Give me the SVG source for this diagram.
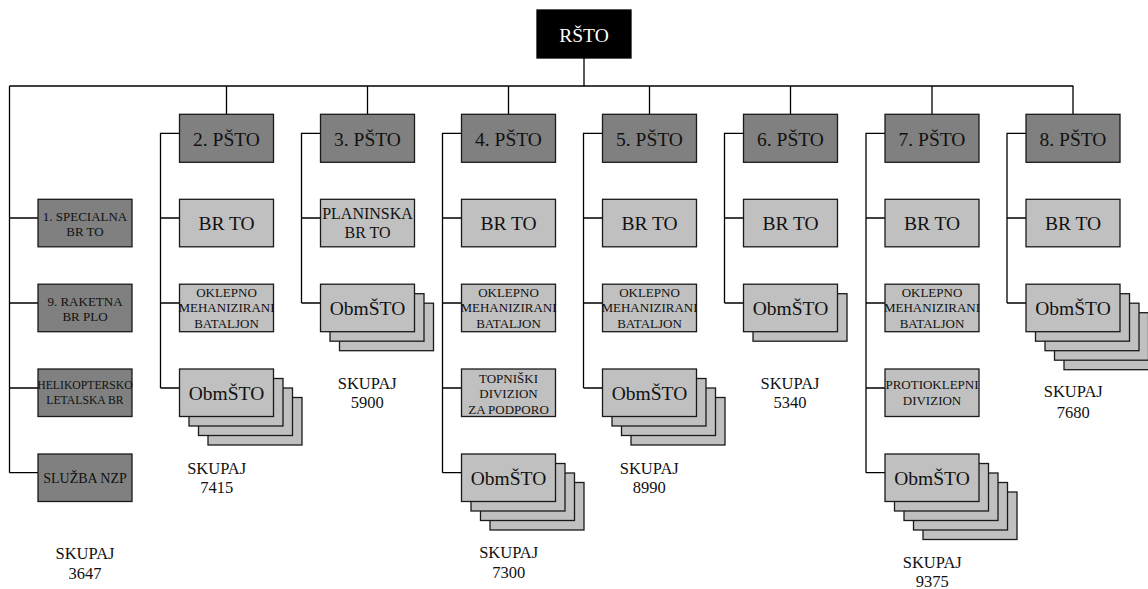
<svg xmlns="http://www.w3.org/2000/svg" width="1148" height="589" viewBox="0 0 1148 589">
<style>
text{fill:#111;text-anchor:middle}
.top{fill:#000;stroke:#000;stroke-width:1.3}
.dk{fill:#808080;stroke:#1a1a1a;stroke-width:1.3}
.lt{fill:#c0c0c0;stroke:#1a1a1a;stroke-width:1.3}
.big{font-size:19.5px}
.mid{font-size:16px}
.sm{font-size:13px}
.tot{font-size:16.5px}
#conn path{fill:none;stroke:#000;stroke-width:1.3}
</style>
<g id="conn">
<path d="M584 58 V86 M9.5 86 H1073.3"/>
<path d="M226.5 86 V114.3 M367.5 86 V114.3 M508.5 86 V114.3 M649.5 86 V114.3 M790.5 86 V114.3 M932 86 V114.3 M1073 86 V114.3"/>
<path d="M9.5 86 V472.7 M9.5 218 H38 M9.5 303 H38 M9.5 388 H38 M9.5 472.7 H38"/>
<path d="M179.5 133.3 H160.5 V388 M160.5 218 H179.5 M160.5 303 H179.5 M160.5 388 H179.5"/>
<path d="M320.5 133.3 H301.5 V303 M301.5 218 H320.5 M301.5 303 H320.5"/>
<path d="M461.5 133.3 H442.5 V472.7 M442.5 218 H461.5 M442.5 303 H461.5 M442.5 388 H461.5 M442.5 472.7 H461.5"/>
<path d="M602.5 133.3 H583.5 V388 M583.5 218 H602.5 M583.5 303 H602.5 M583.5 388 H602.5"/>
<path d="M743.5 133.3 H724.5 V303 M724.5 218 H743.5 M724.5 303 H743.5"/>
<path d="M885 133.3 H866 V472.7 M866 218 H885 M866 303 H885 M866 388 H885 M866 472.7 H885"/>
<path d="M1026 133.3 H1007 V303 M1007 218 H1026 M1007 303 H1026"/>
</g>
<g font-family="'Liberation Serif', 'DejaVu Serif', 'Times New Roman', serif">
<g id="rsto"><rect class="top" x="537" y="10" width="94" height="48"/><text class="big" x="584" y="42" style="fill:#fff">RŠTO</text></g>

<g id="psto2"><rect class="dk" x="179.5" y="114.3" width="94" height="48"/><text class="big" x="226.5" y="146">2. PŠTO</text></g>
<g id="psto3"><rect class="dk" x="320.5" y="114.3" width="94" height="48"/><text class="big" x="367.5" y="146">3. PŠTO</text></g>
<g id="psto4"><rect class="dk" x="461.5" y="114.3" width="94" height="48"/><text class="big" x="508.5" y="146">4. PŠTO</text></g>
<g id="psto5"><rect class="dk" x="602.5" y="114.3" width="94" height="48"/><text class="big" x="649.5" y="146">5. PŠTO</text></g>
<g id="psto6"><rect class="dk" x="743.5" y="114.3" width="94" height="48"/><text class="big" x="790.5" y="146">6. PŠTO</text></g>
<g id="psto7"><rect class="dk" x="885" y="114.3" width="94" height="48"/><text class="big" x="932" y="146">7. PŠTO</text></g>
<g id="psto8"><rect class="dk" x="1026" y="114.3" width="94" height="48"/><text class="big" x="1073" y="146">8. PŠTO</text></g>

<g id="specialna"><rect class="dk" x="38" y="199.3" width="94" height="47.5"/><text class="sm" x="85" y="220.7">1. SPECIALNA</text><text class="sm" x="85" y="236">BR TO</text></g>
<g id="raketna"><rect class="dk" x="38" y="284.2" width="94" height="47.5"/><text class="sm" x="85" y="305.5">9. RAKETNA</text><text class="sm" x="85" y="320.5">BR PLO</text></g>
<g id="heli"><rect class="dk" x="38" y="369" width="94" height="47.5"/><text x="85" y="389.3" style="font-size:11.7px">HELIKOPTERSKO</text><text x="85" y="404.3" style="font-size:11.7px">LETALSKA BR</text></g>
<g id="nzp"><rect class="dk" x="38" y="454" width="94" height="47.5"/><text x="85" y="483.3" style="font-size:14px">SLUŽBA NZP</text></g>
<g id="sum1"><text class="tot" x="85" y="559">SKUPAJ</text><text class="tot" x="85" y="579">3647</text></g>

<g id="c2-brto"><rect class="lt" x="179.5" y="199.3" width="94" height="47.5"/><text class="big" x="226.5" y="230">BR TO</text></g>
<g id="c2-omb"><rect class="lt" x="179.5" y="284.2" width="94" height="47.5"/><text class="sm" x="226.5" y="296.7">OKLEPNO</text><text class="sm" x="226.5" y="312">MEHANIZIRANI</text><text class="sm" x="226.5" y="327.5">BATALJON</text></g>
<g id="c2-obm"><rect class="lt" x="208" y="397.5" width="94" height="47.5"/><rect class="lt" x="198.5" y="388" width="94" height="47.5"/><rect class="lt" x="189" y="378.5" width="94" height="47.5"/><rect class="lt" x="179.5" y="369" width="94" height="47.5"/><text class="big" x="226.5" y="400">ObmŠTO</text></g>
<g id="sum2"><text class="tot" x="216.7" y="474">SKUPAJ</text><text class="tot" x="216.7" y="493.3">7415</text></g>

<g id="c3-plan"><rect class="lt" x="320.5" y="199.3" width="94" height="47.5"/><text class="mid" x="367.5" y="219.3">PLANINSKA</text><text class="mid" x="367.5" y="238.3">BR TO</text></g>
<g id="c3-obm"><rect class="lt" x="339.5" y="303.2" width="94" height="47.5"/><rect class="lt" x="330" y="293.7" width="94" height="47.5"/><rect class="lt" x="320.5" y="284.2" width="94" height="47.5"/><text class="big" x="367.5" y="315">ObmŠTO</text></g>
<g id="sum3"><text class="tot" x="367.3" y="389">SKUPAJ</text><text class="tot" x="367.3" y="408.3">5900</text></g>

<g id="c4-brto"><rect class="lt" x="461.5" y="199.3" width="94" height="47.5"/><text class="big" x="508.5" y="230">BR TO</text></g>
<g id="c4-omb"><rect class="lt" x="461.5" y="284.2" width="94" height="47.5"/><text class="sm" x="508.5" y="296.7">OKLEPNO</text><text class="sm" x="508.5" y="312">MEHANIZIRANI</text><text class="sm" x="508.5" y="327.5">BATALJON</text></g>
<g id="c4-top"><rect class="lt" x="461.5" y="369" width="94" height="47.5"/><text class="sm" x="508.5" y="382.5">TOPNIŠKI</text><text class="sm" x="508.5" y="398">DIVIZION</text><text class="sm" x="508.5" y="413.5">ZA PODPORO</text></g>
<g id="c4-obm"><rect class="lt" x="490" y="482.5" width="94" height="47.5"/><rect class="lt" x="480.5" y="473" width="94" height="47.5"/><rect class="lt" x="471" y="463.5" width="94" height="47.5"/><rect class="lt" x="461.5" y="454" width="94" height="47.5"/><text class="big" x="508.5" y="485">ObmŠTO</text></g>
<g id="sum4"><text class="tot" x="508.7" y="558.3">SKUPAJ</text><text class="tot" x="508.7" y="578.3">7300</text></g>

<g id="c5-brto"><rect class="lt" x="602.5" y="199.3" width="94" height="47.5"/><text class="big" x="649.5" y="230">BR TO</text></g>
<g id="c5-omb"><rect class="lt" x="602.5" y="284.2" width="94" height="47.5"/><text class="sm" x="649.5" y="296.7">OKLEPNO</text><text class="sm" x="649.5" y="312">MEHANIZIRANI</text><text class="sm" x="649.5" y="327.5">BATALJON</text></g>
<g id="c5-obm"><rect class="lt" x="631" y="397.5" width="94" height="47.5"/><rect class="lt" x="621.5" y="388" width="94" height="47.5"/><rect class="lt" x="612" y="378.5" width="94" height="47.5"/><rect class="lt" x="602.5" y="369" width="94" height="47.5"/><text class="big" x="649.5" y="400">ObmŠTO</text></g>
<g id="sum5"><text class="tot" x="649.3" y="474.3">SKUPAJ</text><text class="tot" x="649.3" y="493.3">8990</text></g>

<g id="c6-brto"><rect class="lt" x="743.5" y="199.3" width="94" height="47.5"/><text class="big" x="790.5" y="230">BR TO</text></g>
<g id="c6-obm"><rect class="lt" x="753" y="293.7" width="94" height="47.5"/><rect class="lt" x="743.5" y="284.2" width="94" height="47.5"/><text class="big" x="790.5" y="315">ObmŠTO</text></g>
<g id="sum6"><text class="tot" x="790" y="389">SKUPAJ</text><text class="tot" x="790" y="408.3">5340</text></g>

<g id="c7-brto"><rect class="lt" x="885" y="199.3" width="94" height="47.5"/><text class="big" x="932" y="230">BR TO</text></g>
<g id="c7-omb"><rect class="lt" x="885" y="284.2" width="94" height="47.5"/><text class="sm" x="932" y="296.7">OKLEPNO</text><text class="sm" x="932" y="312">MEHANIZIRANI</text><text class="sm" x="932" y="327.5">BATALJON</text></g>
<g id="c7-prot"><rect class="lt" x="885" y="369" width="94" height="47.5"/><text class="sm" x="932" y="389.3">PROTIOKLEPNI</text><text class="sm" x="932" y="405">DIVIZION</text></g>
<g id="c7-obm"><rect class="lt" x="923" y="492" width="94" height="47.5"/><rect class="lt" x="913.5" y="482.5" width="94" height="47.5"/><rect class="lt" x="904" y="473" width="94" height="47.5"/><rect class="lt" x="894.5" y="463.5" width="94" height="47.5"/><rect class="lt" x="885" y="454" width="94" height="47.5"/><text class="big" x="932" y="485">ObmŠTO</text></g>
<g id="sum7"><text class="tot" x="932.3" y="567.5">SKUPAJ</text><text class="tot" x="932.3" y="587">9375</text></g>

<g id="c8-brto"><rect class="lt" x="1026" y="199.3" width="94" height="47.5"/><text class="big" x="1073" y="230">BR TO</text></g>
<g id="c8-obm"><rect class="lt" x="1064" y="322.2" width="94" height="47.5"/><rect class="lt" x="1054.5" y="312.7" width="94" height="47.5"/><rect class="lt" x="1045" y="303.2" width="94" height="47.5"/><rect class="lt" x="1035.5" y="293.7" width="94" height="47.5"/><rect class="lt" x="1026" y="284.2" width="94" height="47.5"/><text class="big" x="1073" y="315">ObmŠTO</text></g>
<g id="sum8"><text class="tot" x="1073.3" y="397.3">SKUPAJ</text><text class="tot" x="1073.3" y="418.3">7680</text></g>
</g>
</svg>
